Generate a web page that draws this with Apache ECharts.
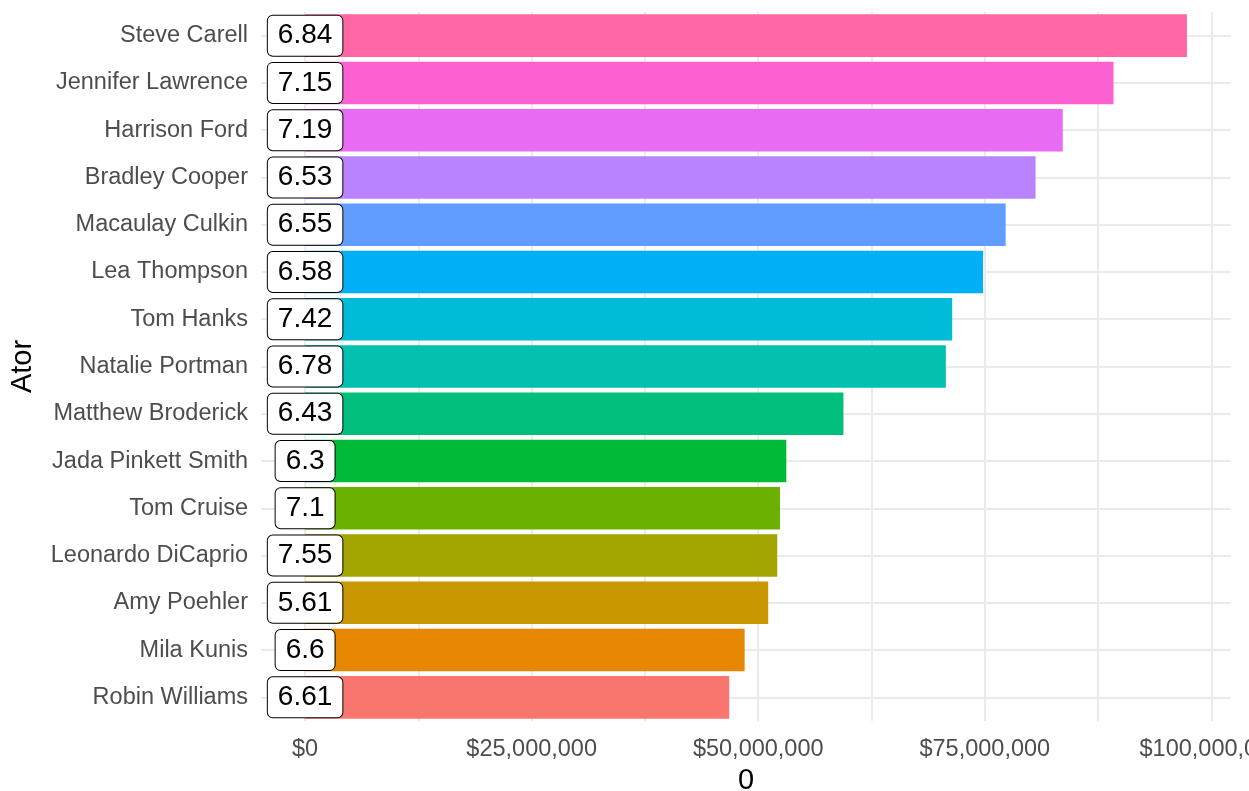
<!DOCTYPE html>
<html>
<head>
<meta charset="utf-8">
<script src="https://cdn.jsdelivr.net/npm/echarts@6/dist/echarts.min.js"></script>
<style>
  html, body { margin: 0; padding: 0; background: #fff; }
  #chart { width: 1249px; height: 791px; }
</style>
</head>
<body>
<div id="chart"></div>
<script>
// atores, de cima para baixo
var atores = ['Steve Carell', 'Jennifer Lawrence', 'Harrison Ford', 'Bradley Cooper',
  'Macaulay Culkin', 'Lea Thompson', 'Tom Hanks', 'Natalie Portman', 'Matthew Broderick',
  'Jada Pinkett Smith', 'Tom Cruise', 'Leonardo DiCaprio', 'Amy Poehler', 'Mila Kunis',
  'Robin Williams'];
// bilheteria (US$)
var bilheteria = [97.3e6, 89.2e6, 83.6e6, 80.6e6, 77.3e6, 74.8e6, 71.4e6, 70.7e6, 59.4e6,
  53.1e6, 52.4e6, 52.1e6, 51.1e6, 48.5e6, 46.8e6];
// nota media
var notas = ['6.84', '7.15', '7.19', '6.53', '6.55', '6.58', '7.42', '6.78', '6.43',
  '6.3', '7.1', '7.55', '5.61', '6.6', '6.61'];
// cores (hue_pal do ggplot)
var cores = ['#FF67A4', '#FD61D1', '#E76BF3', '#B983FF', '#619CFF', '#00B0F6', '#00BCD8',
  '#00C0AF', '#00BF7D', '#00BA38', '#6BB100', '#A3A500', '#C99800', '#E58700', '#F8766D'];
var rotulosX = [0, 25e6, 50e6, 75e6, 100e6];
var gradeX = [0, 12.5e6, 25e6, 37.5e6, 50e6, 62.5e6, 75e6, 87.5e6, 100e6];

var fonte = '"Liberation Sans", Arial, sans-serif';
var maximo = Math.max.apply(null, bilheteria);
var expansao = maximo * 0.05; // expansao de 5% como no ggplot

var chart = echarts.init(document.getElementById('chart'));

chart.setOption({
  animation: false,
  textStyle: { fontFamily: fonte },
  grid: { left: 261, right: 18, top: 12, bottom: 70, outerBoundsMode: 'none', containLabel: false },
  xAxis: {
    type: 'value',
    min: -expansao,
    max: maximo + expansao,
    name: '0',
    nameLocation: 'middle',
    nameGap: 45,
    nameTextStyle: { fontSize: 29, color: '#000', fontFamily: fonte },
    axisLine: { show: false },
    axisTick: { show: false, customValues: gradeX },
    axisLabel: {
      customValues: rotulosX,
      margin: 17,
      fontSize: 23.5,
      color: '#4D4D4D',
      fontFamily: fonte,
      formatter: function (v) { return '$' + Math.round(v).toLocaleString('en-US'); }
    },
    splitLine: { show: true, lineStyle: { color: '#EBEBEB', width: 2 } }
  },
  yAxis: {
    type: 'category',
    data: atores,
    inverse: true,
    name: 'Ator',
    nameLocation: 'middle',
    nameGap: 224,
    nameTextStyle: { fontSize: 29, color: '#000', fontFamily: fonte },
    axisLine: { show: false },
    axisTick: { show: false },
    axisLabel: { margin: 13, fontSize: 23.5, color: '#4D4D4D', fontFamily: fonte },
    splitLine: { show: true, alignWithLabel: true, lineStyle: { color: '#EBEBEB', width: 2 } }
  },
  series: [
    {
      type: 'bar',
      barWidth: '90%',
      data: bilheteria.map(function (v, i) {
        return { value: v, itemStyle: { color: cores[i] } };
      }),
      z: 2
    },
    {
      // rotulos com a nota, presos em x = 0
      type: 'scatter',
      symbolSize: 1,
      itemStyle: { color: 'rgba(0,0,0,0)', opacity: 1 },
      emphasis: { disabled: true },
      data: atores.map(function (a) { return [0, a]; }),
      label: {
        show: true,
        position: 'inside',
        formatter: function (p) { return notas[p.dataIndex]; },
        fontSize: 28,
        color: '#000',
        fontFamily: fonte,
        backgroundColor: '#fff',
        borderColor: '#000',
        borderWidth: 1,
        borderRadius: 5,
        padding: [7, 10, 5, 10]
      },
      z: 5
    }
  ]
});
</script>
</body>
</html>
